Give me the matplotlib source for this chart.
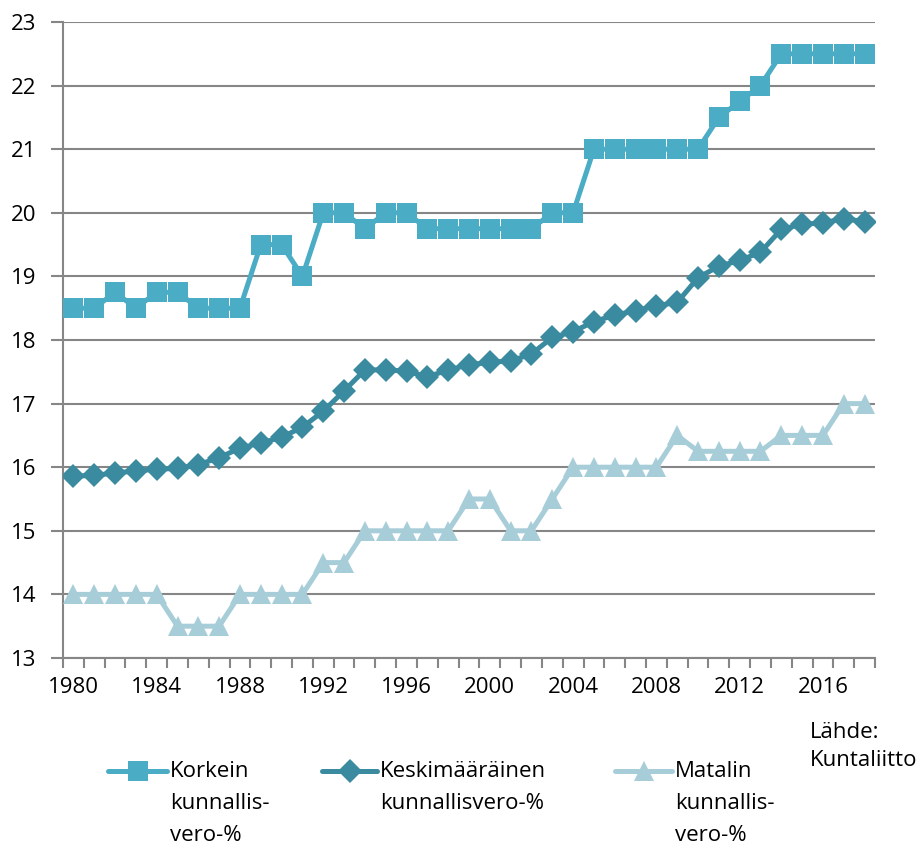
import numpy as np
import matplotlib.pyplot as plt
from matplotlib.lines import Line2D

years = list(range(1980, 2019))

korkein = [18.5, 18.5, 18.75, 18.5, 18.75, 18.75, 18.5, 18.5, 18.5, 19.5,
           19.5, 19.0, 20.0, 20.0, 19.75, 20.0, 20.0, 19.75, 19.75, 19.75,
           19.75, 19.75, 19.75, 20.0, 20.0, 21.0, 21.0, 21.0, 21.0, 21.0,
           21.0, 21.5, 21.75, 22.0, 22.5, 22.5, 22.5, 22.5, 22.5]

keski = [15.86, 15.87, 15.91, 15.94, 15.97, 15.98, 16.04, 16.15, 16.30, 16.38,
         16.47, 16.63, 16.88, 17.20, 17.53, 17.53, 17.51, 17.42, 17.53, 17.61,
         17.65, 17.67, 17.78, 18.04, 18.13, 18.29, 18.39, 18.46, 18.54, 18.59,
         18.98, 19.16, 19.25, 19.38, 19.74, 19.82, 19.84, 19.91, 19.86]

matalin = [14.0, 14.0, 14.0, 14.0, 14.0, 13.5, 13.5, 13.5, 14.0, 14.0,
           14.0, 14.0, 14.5, 14.5, 15.0, 15.0, 15.0, 15.0, 15.0, 15.5,
           15.5, 15.0, 15.0, 15.5, 16.0, 16.0, 16.0, 16.0, 16.0, 16.5,
           16.25, 16.25, 16.25, 16.25, 16.5, 16.5, 16.5, 17.0, 17.0]

series_labels = [["Korkein", "kunnallis-", "vero-%"],
                 ["Keskimääräinen", "kunnallisvero-%"],
                 ["Matalin", "kunnallis-", "vero-%"]]
colors = ['#4BACC6', '#3A8BA0', '#A7CDD9']
markers = ['s', 'D', '^']
msizes = [14, 12, 15]

plt.rcParams['font.family'] = ['Open Sans', 'DejaVu Sans']
plt.rcParams['font.size'] = 16

W, H = 917, 846
fig = plt.figure(figsize=(W / 100, H / 100), dpi=100)
ax = fig.add_axes([63 / W, 188 / H, 812 / W, 636 / H])

x = np.arange(len(years))
for vals, c, m, ms in zip([korkein, keski, matalin], colors, markers, msizes):
    ax.plot(x, vals, color=c, lw=3.6, marker=m, ms=ms, mec=c, mew=0,
            solid_joinstyle='round', zorder=3)

ax.set_xlim(-0.5, len(years) - 0.5)
ax.set_ylim(13, 23)
ax.set_yticks(range(13, 24))
ax.grid(axis='y', color='#868686', lw=1.5)
ax.set_axisbelow(True)

ax.set_xticks(x[::4])
ax.set_xticklabels([str(y) for y in years[::4]])
ax.set_xticks(np.arange(-0.5, len(years)), minor=True)
ax.tick_params(axis='x', which='major', length=0, pad=14)
ax.tick_params(axis='x', which='minor', length=7, width=1.5, color='#868686')
ax.tick_params(axis='y', length=9, width=1.5, color='#868686', pad=10)

for s in ['top', 'right']:
    ax.spines[s].set_visible(False)
for s in ['left', 'bottom']:
    ax.spines[s].set_color('#868686')
    ax.spines[s].set_linewidth(1.5)

# legend drawn by hand so that the handle sits on the first text line
leg_lines = [(108, 167, 170), (322, 377, 380), (615, 672, 675)]
for (x0, x1, tx), lab, c, m, ms in zip(leg_lines, series_labels, colors, markers, msizes):
    yy = 1 - 771 / H
    fig.add_artist(Line2D([x0 / W, (x0 + x1) / 2 / W, x1 / W], [yy] * 3,
                          color=c, lw=3.6, marker=m, ms=ms, mec=c, mew=0,
                          markevery=[1], solid_capstyle='round',
                          transform=fig.transFigure))
    for i, line in enumerate(lab):
        fig.text(tx / W, 1 - (771 + 32 * i) / H, line, va='center', ha='left')

fig.text(810 / W, 1 - 732 / H, "Lähde:", va='center', ha='left')
fig.text(810 / W, 1 - 760 / H, "Kuntaliitto", va='center', ha='left')

fig.savefig('out.png', dpi=100)
